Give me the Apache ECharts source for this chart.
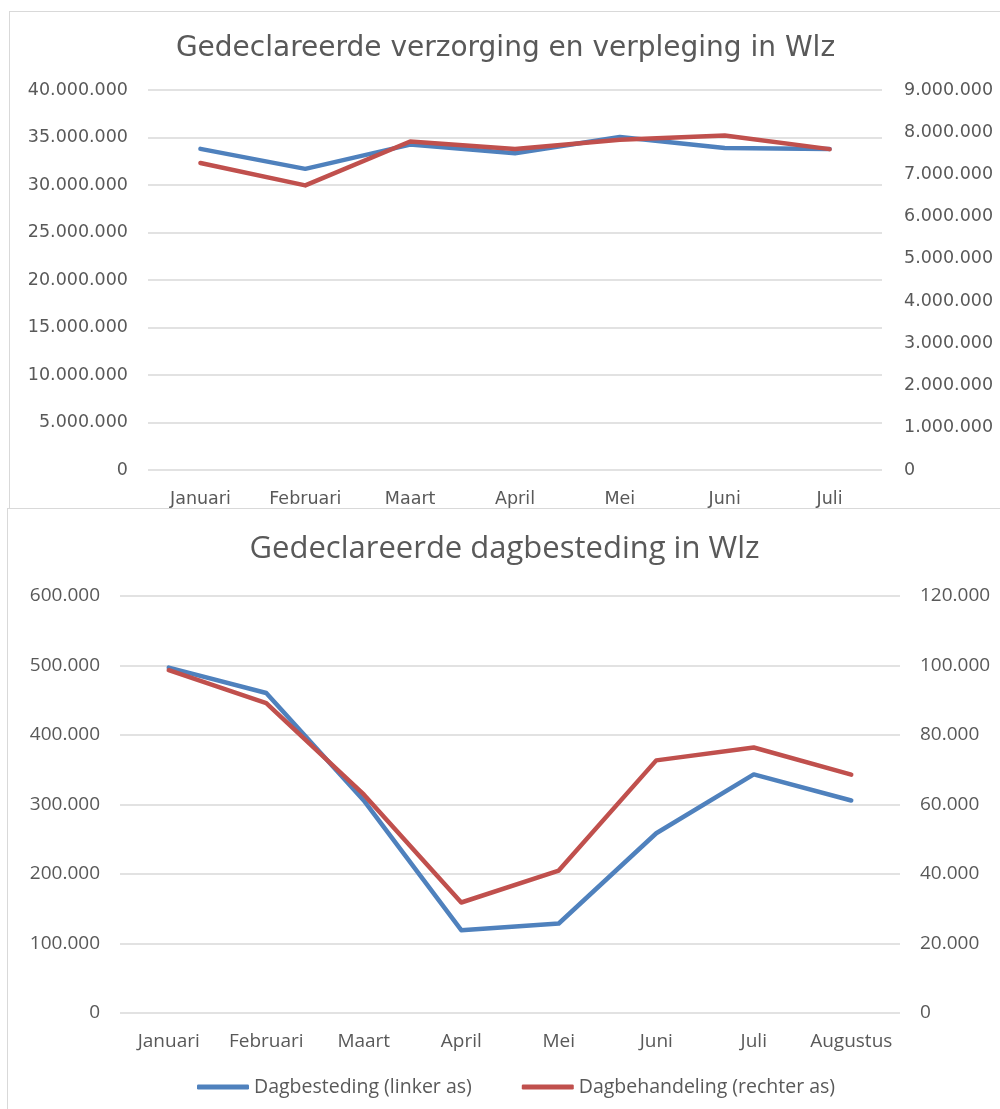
<!DOCTYPE html>
<html>
<head>
<meta charset="utf-8">
<script src="https://cdn.jsdelivr.net/npm/echarts@6/dist/echarts.min.js"></script>
<style>
  html, body { margin: 0; padding: 0; width: 1000px; height: 1109px; overflow: hidden; background: #fff; }
  .box { position: absolute; box-sizing: content-box; border-color: #d9d9d9; border-style: solid; }
  #top { left: 9px; top: 11px; width: 991px; height: 496px; border-width: 1px 0 1px 1px; }
  #bottom { left: 7px; top: 508px; width: 993px; height: 601px; border-width: 1px 0 0 1px; }
</style>
</head>
<body>
<div id="top" class="box"></div>
<div id="bottom" class="box"></div>
<script>
// bovenste grafiek
var topMonths = ['Januari', 'Februari', 'Maart', 'April', 'Mei', 'Juni', 'Juli'];
var verzorgingLinks = [33800000, 31700000, 34250000, 33350000, 35050000, 33900000, 33800000];
var verzorgingRechts = [7270000, 6740000, 7780000, 7600000, 7820000, 7920000, 7600000];

// onderste grafiek
var botMonths = ['Januari', 'Februari', 'Maart', 'April', 'Mei', 'Juni', 'Juli', 'Augustus'];
var dagbesteding = [497000, 460500, 305800, 119200, 128800, 258600, 343300, 305800];
var dagbehandeling = [98650, 89200, 62900, 31800, 41000, 72700, 76400, 68600];

var blauw = '#4f81bd';
var rood = '#c0504d';
var tekst = '#595959';
var lijn = '#d9d9d9';

// 1234567 -> 1.234.567
function punten(v) {
    return String(v).replace(/\B(?=(\d{3})+(?!\d))/g, '.');
}

function serie(name, data, color, axis) {
    return {
        name: name,
        type: 'line',
        yAxisIndex: axis,
        data: data,
        symbol: 'none',
        silent: true,
        lineStyle: { color: color, width: 4.5, cap: 'round', join: 'round' },
        itemStyle: { color: color }
    };
}

var topChart = echarts.init(document.getElementById('top'));
topChart.setOption({
    animation: false,
    textStyle: { fontFamily: 'DejaVu Sans' },
    title: {
        text: 'Gedeclareerde verzorging en verpleging in Wlz',
        left: 'center',
        top: 18,
        textStyle: { fontFamily: 'DejaVu Sans', fontSize: 28, fontWeight: 'normal', color: tekst }
    },
    grid: { left: 138, right: 119, top: 78, bottom: 37 },
    xAxis: {
        type: 'category',
        data: topMonths,
        axisLine: { show: false },
        axisTick: { show: false },
        axisLabel: { color: tekst, fontSize: 17.5, margin: 20, interval: 0 }
    },
    yAxis: [
        {
            type: 'value', min: 0, max: 40000000, interval: 5000000,
            axisLabel: { color: tekst, fontSize: 17.5, margin: 20, formatter: punten },
            splitLine: { lineStyle: { color: lijn, width: 1.5 } }
        },
        {
            type: 'value', min: 0, max: 9000000, interval: 1000000,
            axisLabel: { color: tekst, fontSize: 17.5, margin: 22, formatter: punten },
            splitLine: { show: false }
        }
    ],
    series: [
        serie('Verzorging (linker as)', verzorgingLinks, blauw, 0),
        serie('Verpleging (rechter as)', verzorgingRechts, rood, 1)
    ]
});

var botChart = echarts.init(document.getElementById('bottom'));
botChart.setOption({
    animation: false,
    textStyle: { fontFamily: 'Open Sans' },
    title: {
        text: 'Gedeclareerde dagbesteding in Wlz',
        left: 'center',
        top: 20,
        textStyle: { fontFamily: 'Open Sans', fontSize: 31, fontWeight: 'normal', color: tekst }
    },
    legend: {
        left: 184,
        top: 563,
        icon: 'roundRect',
        itemWidth: 52,
        itemHeight: 5,
        itemGap: 50,
        textStyle: { color: tekst, fontSize: 19.5, fontFamily: 'Open Sans' },
        data: ['Dagbesteding (linker as)', 'Dagbehandeling (rechter as)']
    },
    grid: { left: 112, right: 101, top: 87, bottom: 97 },
    xAxis: {
        type: 'category',
        data: botMonths,
        axisLine: { show: false },
        axisTick: { show: false },
        axisLabel: { color: tekst, fontSize: 19, margin: 19, interval: 0 }
    },
    yAxis: [
        {
            type: 'value', min: 0, max: 600000, interval: 100000,
            axisLabel: { color: tekst, fontSize: 19, margin: 20, formatter: punten },
            splitLine: { lineStyle: { color: lijn, width: 1.5 } }
        },
        {
            type: 'value', min: 0, max: 120000, interval: 20000,
            axisLabel: { color: tekst, fontSize: 19, margin: 20, formatter: punten },
            splitLine: { show: false }
        }
    ],
    series: [
        serie('Dagbesteding (linker as)', dagbesteding, blauw, 0),
        serie('Dagbehandeling (rechter as)', dagbehandeling, rood, 1)
    ]
});
</script>
</body>
</html>
